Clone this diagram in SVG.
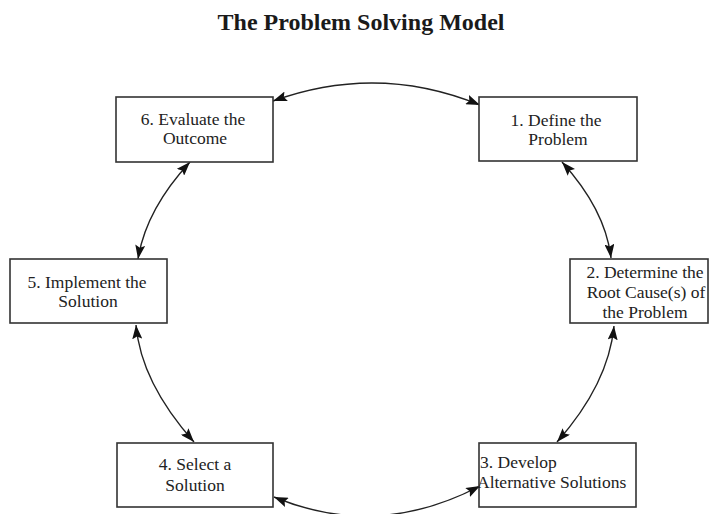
<svg xmlns="http://www.w3.org/2000/svg" width="710" height="514" viewBox="0 0 710 514">
<style>
.box{fill:#fff;stroke:#333;stroke-width:1.6}
.t{font-family:"Liberation Serif","Times New Roman",serif;font-size:17.5px;fill:#222;text-anchor:middle}
.tl{text-anchor:start}
.title{font-family:"Liberation Serif","Times New Roman",serif;font-size:24px;font-weight:bold;fill:#1a1a1a;text-anchor:middle}
.c{fill:none;stroke:#222;stroke-width:1.4;marker-start:url(#ah);marker-end:url(#ah)}
</style>
<defs>
<marker id="ah" viewBox="0 0 14 10" markerWidth="14" markerHeight="10" refX="14" refY="5" orient="auto-start-reverse" markerUnits="userSpaceOnUse">
<path d="M0,0 L14,5 L0,10 L2.5,5 z" fill="#111"/>
</marker>
</defs>
<rect width="710" height="514" fill="#fff"/>
<text class="title" x="361" y="30">The Problem Solving Model</text>
<g id="connectors">
<path class="c" d="M273,101 Q377.5,63 480,105"/>
<path class="c" d="M562,162 Q605.5,210 611,258"/>
<path class="c" d="M614,326 Q608.5,384 557,442"/>
<path class="c" d="M480,486 Q377,540 274,497"/>
<path class="c" d="M194,442 Q141,382.5 136,325"/>
<path class="c" d="M138,259 Q146,209.5 190,162"/>
</g>
<g id="node1">
<rect class="box" x="479" y="97" width="158" height="64"/>
<text class="t" x="556" y="126">1. Define the</text>
<text class="t" x="558" y="145">Problem</text>
</g>
<g id="node2">
<rect class="box" x="570" y="259" width="138" height="64"/>
<text class="t" x="645" y="278">2. Determine the</text>
<text class="t" x="646" y="298">Root Cause(s) of</text>
<text class="t" x="645" y="318">the Problem</text>
</g>
<g id="node3">
<rect class="box" x="479" y="443" width="157" height="64"/>
<text class="t tl" x="480" y="468">3. Develop</text>
<text class="t tl" x="477" y="488">Alternative Solutions</text>
</g>
<g id="node4">
<rect class="box" x="117" y="443" width="156" height="64"/>
<text class="t" x="195" y="470">4. Select a</text>
<text class="t" x="195" y="491">Solution</text>
</g>
<g id="node5">
<rect class="box" x="10" y="259" width="157" height="64"/>
<text class="t" x="87" y="288">5. Implement the</text>
<text class="t" x="88" y="307">Solution</text>
</g>
<g id="node6">
<rect class="box" x="116" y="97" width="157" height="65"/>
<text class="t" x="193" y="125">6. Evaluate the</text>
<text class="t" x="195" y="144">Outcome</text>
</g>
</svg>
